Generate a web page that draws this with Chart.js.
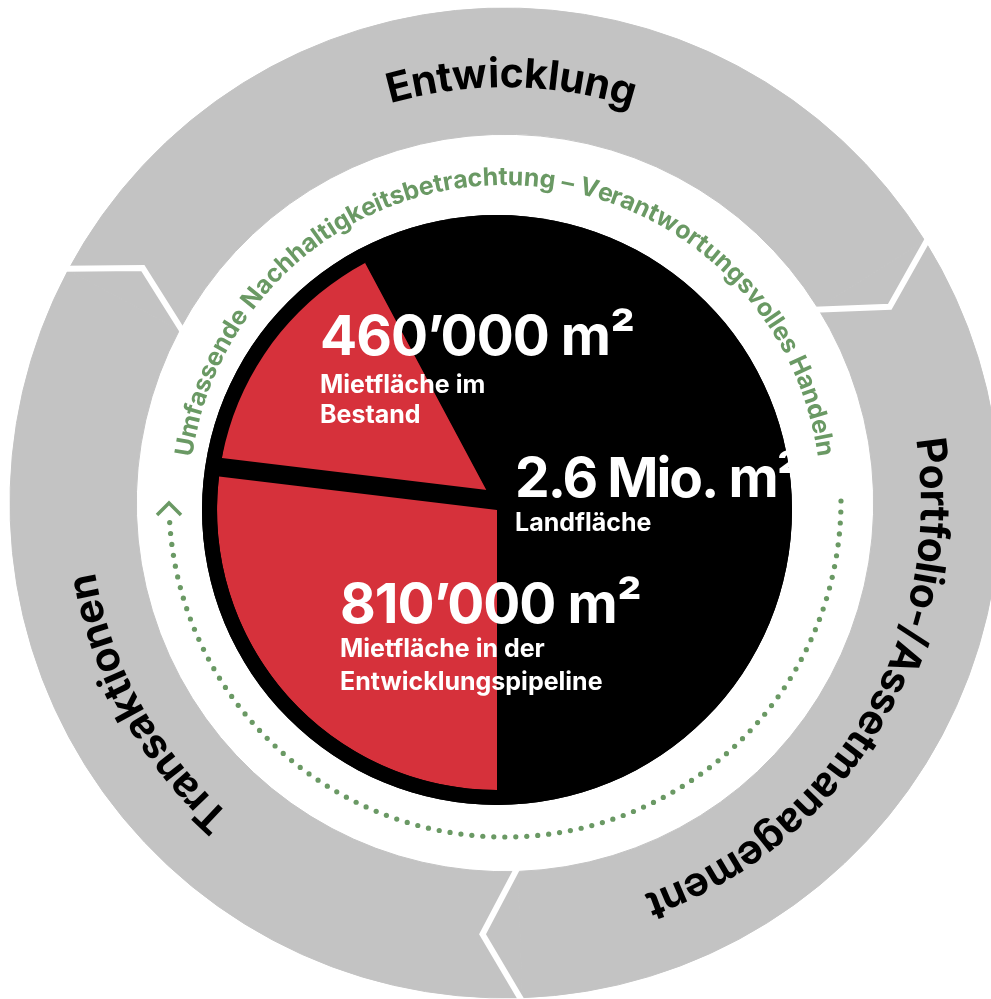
<!DOCTYPE html>
<html>
<head>
<meta charset="utf-8">
<script src="https://cdn.jsdelivr.net/npm/chart.js@4.4.1/dist/chart.umd.min.js"></script>
<style>
  html, body { margin: 0; padding: 0; background: #fff; width: 991px; height: 999px; overflow: hidden; }
  #ring { position: absolute; left: 5px; top: 3px; }
  #pie { position: absolute; left: 147px; top: 160px; }
</style>
</head>
<body>
<canvas id="ring" width="1000" height="1000"></canvas>
<canvas id="pie" width="700" height="700"></canvas>
<script>
// cycle around the outside, clockwise from the top
const phases = ['Entwicklung', 'Portfolio-/Assetmanagement', 'Transaktionen'];
const phaseShares = [1, 1, 1];

// inner pie, m² (last value = black remainder as drawn)
const areaLabels = ['Mietfläche in der Entwicklungspipeline', 'Mietfläche im Bestand', 'Landfläche'];
const areaValues = [810000, 460000, 1740000];
const areaBig = ['810’000 m²', '460’000 m²', '2.6 Mio. m²'];
const areaSmall = [['Mietfläche in der', 'Entwicklungspipeline'], ['Mietfläche im', 'Bestand'], ['Landfläche']];

const ringText = 'Umfassende Nachhaltigkeitsbetrachtung – Verantwortungsvolles Handeln';

const GRAY = '#c3c3c3';
const RED = '#d6313b';
const GREEN = '#6a9964';

function arcText(ctx, text, cx, cy, r, mid, font, color, track) {
  ctx.font = font;
  ctx.fillStyle = color;
  ctx.textAlign = 'center';
  ctx.textBaseline = 'alphabetic';
  const chars = [...text];
  const total = ctx.measureText(text).width + track * (chars.length - 1);
  const start = mid - total / 2 / r;
  let pre = '';
  chars.forEach((ch, i) => {
    const w = ctx.measureText(ch).width;
    const pos = ctx.measureText(pre).width + track * i + w / 2;
    const a = start + pos / r;
    ctx.save();
    ctx.translate(cx + r * Math.cos(a), cy + r * Math.sin(a));
    ctx.rotate(a + Math.PI / 2);
    ctx.fillText(ch, 0, 0);
    ctx.restore();
    pre += ch;
  });
}

const cyclePlugin = {
  id: 'cycle',
  afterDatasetsDraw(chart) {
    const ctx = chart.ctx;
    const arcs = chart.getDatasetMeta(0).data;
    const { x: cx, y: cy, innerRadius: rIn, outerRadius: rOut } = arcs[0];
    const rMid = (rIn + rOut) / 2;
    ctx.save();
    // chevron cuts between the phases
    ctx.strokeStyle = '#fff';
    ctx.lineWidth = 6;
    arcs.forEach(a => {
      const t = a.startAngle, tip = t + 0.087;
      ctx.beginPath();
      ctx.moveTo(cx + (rIn - 4) * Math.cos(t), cy + (rIn - 4) * Math.sin(t));
      ctx.lineTo(cx + rMid * Math.cos(tip), cy + rMid * Math.sin(tip));
      ctx.lineTo(cx + (rOut + 4) * Math.cos(t), cy + (rOut + 4) * Math.sin(t));
      ctx.stroke();
    });
    arcs.forEach((a, i) => {
      const mid = (a.startAngle + a.endAngle) / 2 + 0.05;
      arcText(ctx, phases[i], cx, cy, rMid - 16, mid, 'bold 41px Inter', '#000', -0.3);
    });

    // green ring: text over the top, dotted arrow under the bottom
    const gy = cy - 2;
    arcText(ctx, ringText, cx, gy, 316, -Math.PI / 2, 'bold 25px Inter', GREEN, 0);
    const rd = 336, step = 11 / rd;
    ctx.fillStyle = GREEN;
    for (let a = 0; a <= Math.PI - 0.04; a += step) {
      ctx.beginPath();
      ctx.arc(cx + rd * Math.cos(a), gy + rd * Math.sin(a), 2.6, 0, Math.PI * 2);
      ctx.fill();
    }
    const ax = cx - rd, ay = gy;
    ctx.strokeStyle = GREEN;
    ctx.lineWidth = 3.5;
    ctx.beginPath();
    ctx.moveTo(ax - 12, ay + 14);
    ctx.lineTo(ax, ay + 2);
    ctx.lineTo(ax + 12, ay + 14);
    ctx.stroke();
    ctx.restore();
  }
};

new Chart(document.getElementById('ring'), {
  type: 'doughnut',
  data: {
    labels: phases,
    datasets: [{ data: phaseShares, backgroundColor: GRAY, borderColor: GRAY, borderWidth: 1 }]
  },
  options: {
    responsive: false,
    animation: false,
    events: [],
    rotation: -62,
    radius: 495,
    cutout: 372,
    layout: { padding: 0 },
    plugins: { legend: { display: false }, tooltip: { enabled: false } }
  },
  plugins: [cyclePlugin]
});

// black disc behind the pie, and the Bestand slice pulled out and a bit smaller
const explodePlugin = {
  id: 'explode',
  beforeDatasetsDraw(chart) {
    const rim = chart.getDatasetMeta(0).data[0];
    const arcs = chart.getDatasetMeta(1).data;
    const base = arcs[0], slice = arcs[1];
    const ctx = chart.ctx;
    ctx.save();
    ctx.fillStyle = '#000';
    ctx.beginPath();
    ctx.arc(rim.x, rim.y, rim.outerRadius, 0, Math.PI * 2);
    ctx.fill();
    ctx.restore();
    slice.x = base.x - 10;
    slice.y = base.y - 20;
    slice.outerRadius = base.outerRadius - 13;
  }
};

const labelPlugin = {
  id: 'areaLabels',
  afterDatasetsDraw(chart) {
    const ctx = chart.ctx;
    const { x: cx, y: cy } = chart.getDatasetMeta(1).data[0];
    const spots = [[-157, 113, 34, 33], [-177, -155, 38, 30], [18, -13, 34, 0]];
    ctx.save();
    ctx.fillStyle = '#fff';
    ctx.textAlign = 'left';
    ctx.textBaseline = 'alphabetic';
    spots.forEach(([dx, dy, gap, lh], i) => {
      ctx.font = 'bold 55px Inter';
      ctx.letterSpacing = i === 2 ? '-2px' : '-1px';
      ctx.fillText(areaBig[i], cx + dx, cy + dy);
      ctx.font = 'bold 25px Inter';
      ctx.letterSpacing = '0px';
      areaSmall[i].forEach((line, j) => ctx.fillText(line, cx + dx, cy + dy + gap + j * lh));
    });
    ctx.restore();
  }
};

new Chart(document.getElementById('pie'), {
  type: 'pie',
  data: {
    labels: areaLabels,
    datasets: [
      { data: [1], backgroundColor: '#000', borderWidth: 0, weight: 15 },
      { data: areaValues, backgroundColor: [RED, RED, '#000'], borderWidth: 0, weight: 280 }
    ]
  },
  options: {
    responsive: false,
    animation: false,
    events: [],
    rotation: 180,
    radius: 295,
    layout: { padding: 0 },
    plugins: { legend: { display: false }, tooltip: { enabled: false } }
  },
  plugins: [explodePlugin, labelPlugin]
});
</script>
</body>
</html>
